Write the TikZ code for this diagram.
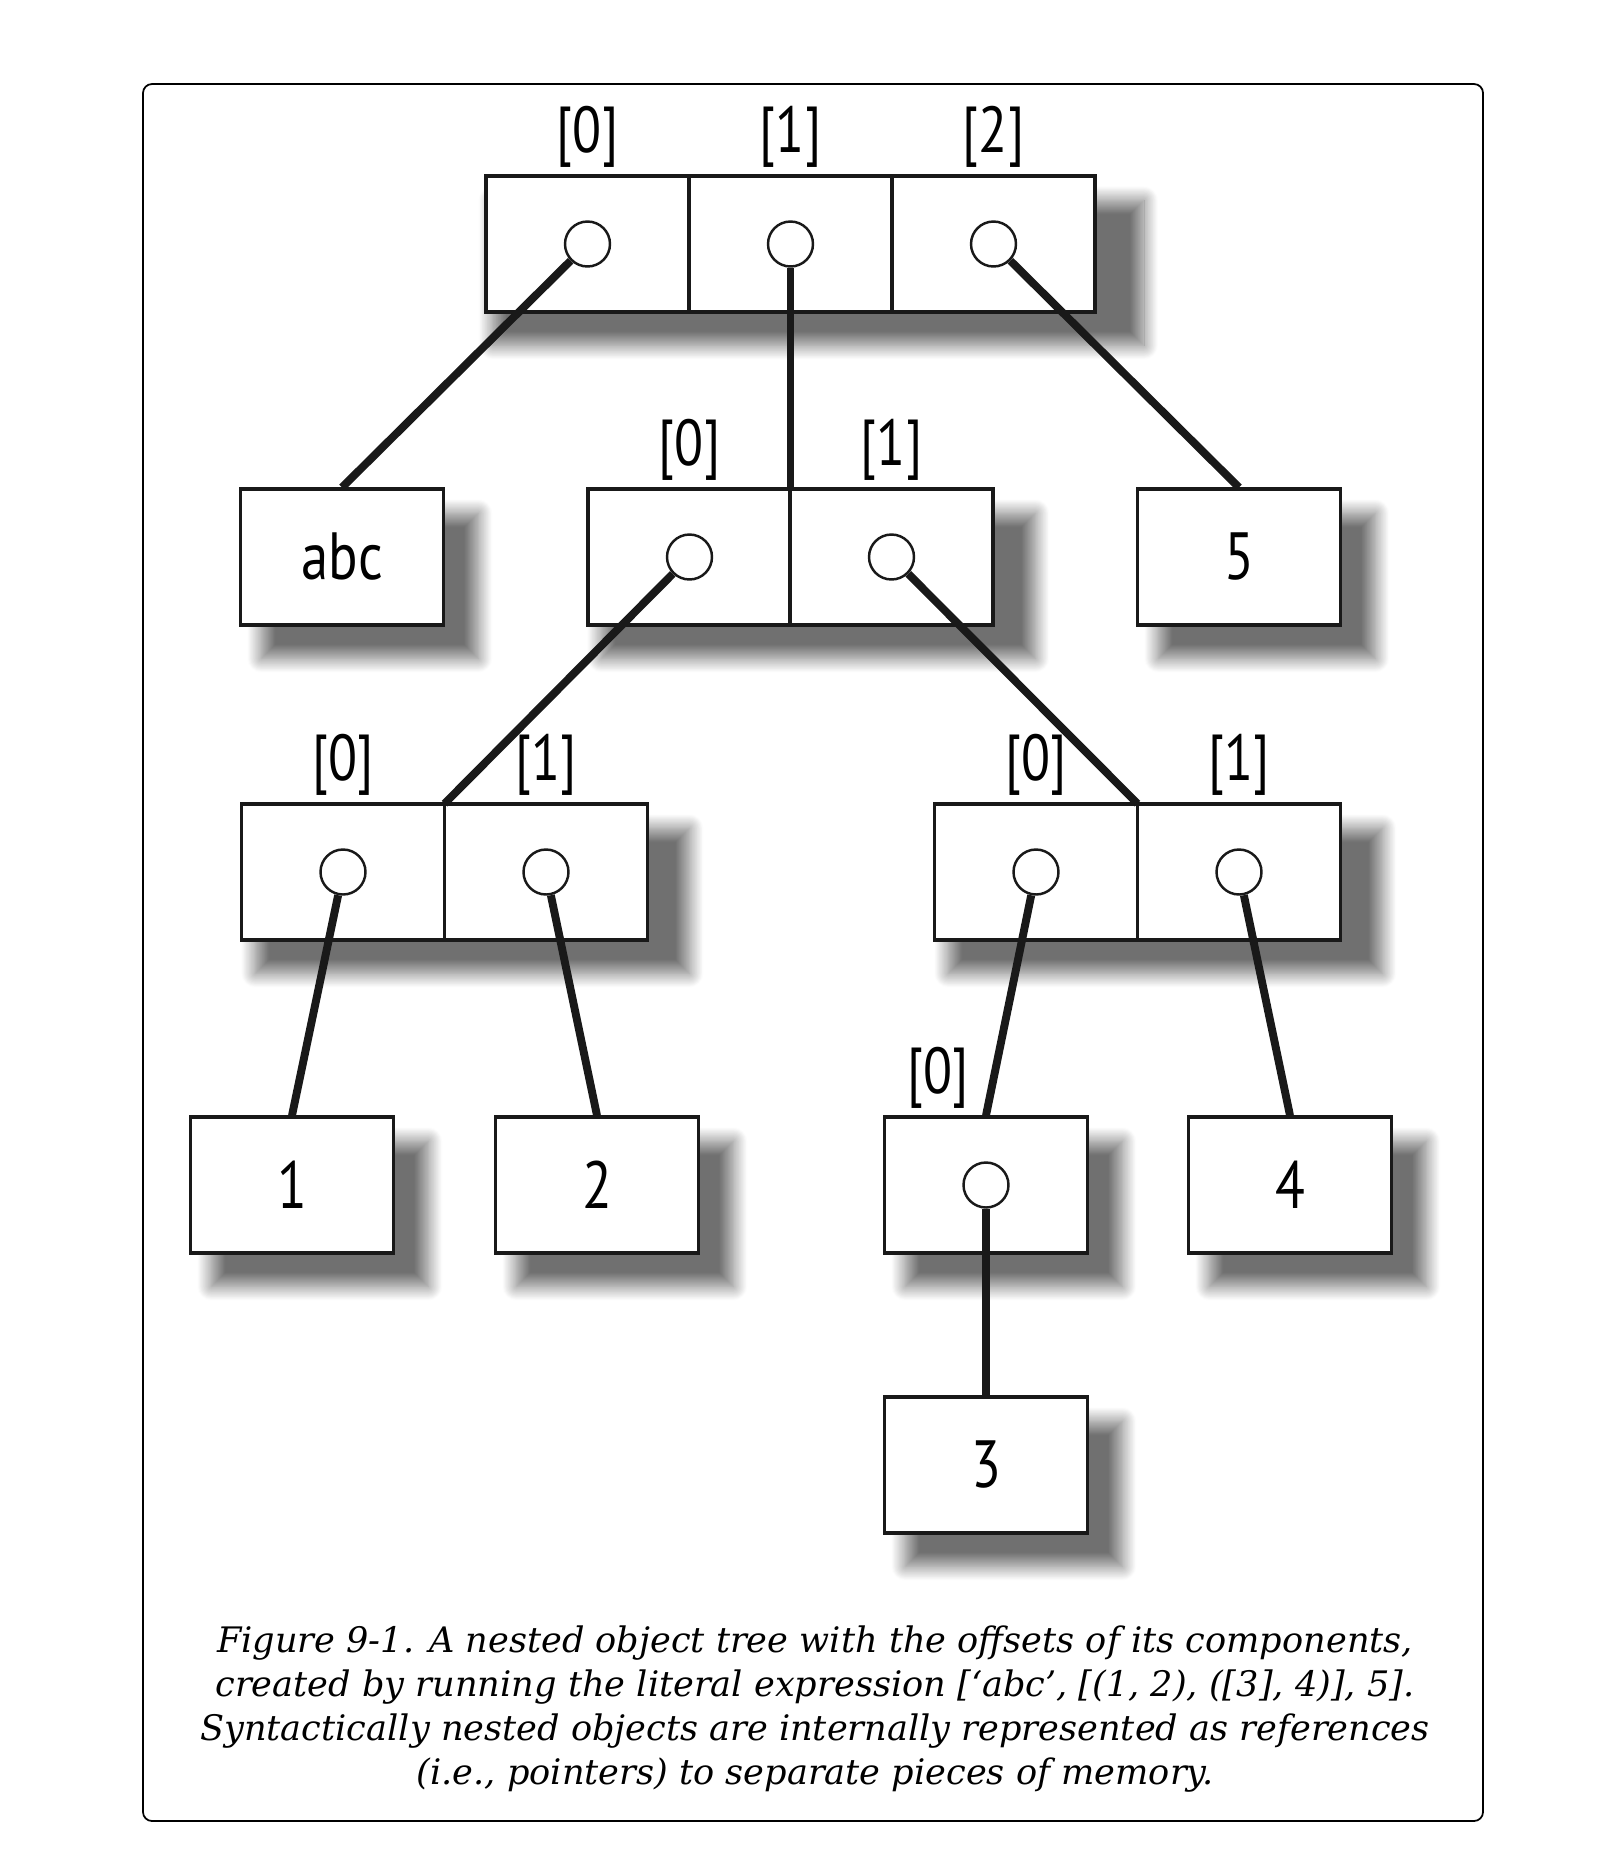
\documentclass[tikz,border=0pt]{standalone}
\usepackage{fontspec}
\usepackage{tikz}
\usetikzlibrary{positioning, shadows.blur}
\newfontfamily\idxfont[FakeStretch=0.82]{PT Sans}
\newfontfamily\captfont{DejaVu Serif}

\begin{document}
\begin{tikzpicture}[
    x=0.02cm, y=-0.02cm,
    shade it/.style={blur shadow={shadow xshift=0.52cm, shadow yshift=-0.54cm, shadow scale=1.07, shadow blur radius=0.26cm, shadow blur steps=20, shadow opacity=56}},
    listbg/.style={rectangle, fill=white, minimum height=2.72cm, inner sep=0pt, shade it},
    cell/.style={rectangle, draw=black!90, line width=1.8pt, fill=white, minimum width=4.06cm, minimum height=2.72cm, inner sep=0pt, font=\idxfont\fontsize{38}{44}\selectfont},
    leaf/.style={cell, shade it},
    ptr/.style={circle, draw=black!90, line width=1.4pt, fill=white, minimum size=0.9cm, inner sep=0pt},
    idx/.style={anchor=south, inner sep=0pt, yshift=0.14cm, font=\idxfont\fontsize{37}{44}\selectfont},
    link/.style={line width=4.5pt, black!90}
]
\useasboundingbox (0,0) rectangle (1602,1854);

% Frame
\draw[line width=1pt, rounded corners=0.18cm] (143,84) rectangle (1483,1821);

% Top list
\node[listbg, minimum width=12.18cm] (top) at (790.5,244) {};
\foreach \i/\x in {0/587.5, 1/790.5, 2/993.5} {
    \node[cell] (t\i) at (\x,244) {};
    \node[ptr] (tp\i) at (t\i) {};
    \node[idx] at (t\i.north) {[\i]};
}

% Second row
\node[leaf] (abc) at (342,557) {abc};
\node[listbg, minimum width=8.12cm] (mid) at (790.5,557) {};
\foreach \i/\x in {0/689.5, 1/891.5} {
    \node[cell] (m\i) at (\x,557) {};
    \node[ptr] (mp\i) at (m\i) {};
    \node[idx] at (m\i.north) {[\i]};
}
\node[leaf] (five) at (1239,557) {5};

% Third row
\node[listbg, minimum width=8.12cm] (left) at (444.5,872) {};
\node[listbg, minimum width=8.12cm] (right) at (1137.5,872) {};
\foreach \i/\x in {0/343, 1/546} {
    \node[cell] (l\i) at (\x,872) {};
    \node[ptr] (lp\i) at (l\i) {};
    \node[idx] at (l\i.north) {[\i]};
}
\foreach \i/\x in {0/1036, 1/1239} {
    \node[cell] (r\i) at (\x,872) {};
    \node[ptr] (rp\i) at (r\i) {};
    \node[idx] at (r\i.north) {[\i]};
}

% Fourth row
\node[leaf] (one) at (292,1185) {1};
\node[leaf] (two) at (597,1185) {2};
\node[leaf] (inner) at (986,1185) {};
\node[ptr] (ip0) at (inner) {};
\node[idx, xshift=-0.96cm] at (inner.north) {[0]};
\node[leaf] (four) at (1290,1185) {4};

% Fifth row
\node[leaf] (three) at (986,1465) {3};

% References
\draw[link] (tp0) -- (abc.north);
\draw[link] (tp1) -- (mid.north);
\draw[link] (tp2) -- (five.north);
\draw[link] (mp0) -- (left.north);
\draw[link] (mp1) -- (right.north);
\draw[link] (lp0) -- (one.north);
\draw[link] (lp1) -- (two.north);
\draw[link] (rp0) -- (inner.north);
\draw[link] (rp1) -- (four.north);
\draw[link] (ip0) -- (three.north);

% Caption
\node[align=center, font=\captfont\itshape\fontsize{20}{25}\selectfont] (caption) at (815,1709)
    {Figure 9-1. A nested object tree with the offsets of its components,\\
     created by running the literal expression [‘abc’, [(1, 2), ([3], 4)], 5].\\
     Syntactically nested objects are internally represented as references\\
     (i.e., pointers) to separate pieces of memory.};

\end{tikzpicture}
\end{document}
